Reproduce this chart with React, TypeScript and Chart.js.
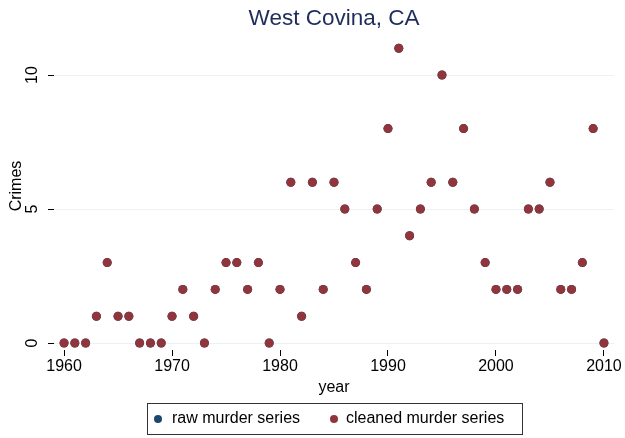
import React, { useEffect, useRef } from "react";
import { Chart, registerables } from "chart.js";

Chart.register(...registerables);

const years: number[] = [
  1960, 1961, 1962, 1963, 1964, 1965, 1966, 1967, 1968, 1969,
  1970, 1971, 1972, 1973, 1974, 1975, 1976, 1977, 1978, 1979,
  1980, 1981, 1982, 1983, 1984, 1985, 1986, 1987, 1988, 1989,
  1990, 1991, 1992, 1993, 1994, 1995, 1996, 1997, 1998, 1999,
  2000, 2001, 2002, 2003, 2004, 2005, 2006, 2007, 2008, 2009, 2010,
];
const cleanedMurders: number[] = [
  0, 0, 0, 1, 3, 1, 1, 0, 0, 0,
  1, 2, 1, 0, 2, 3, 3, 2, 3, 0,
  2, 6, 1, 6, 2, 6, 5, 3, 2, 5,
  8, 11, 4, 5, 6, 10, 6, 8, 5, 3,
  2, 2, 2, 5, 5, 6, 2, 2, 3, 8, 0,
];
const rawMurders: number[] = [...cleanedMurders];
const xTicks: number[] = [1960, 1970, 1980, 1990, 2000, 2010];
const yTicks: number[] = [0, 5, 10];
const titleText = "West Covina, CA";
const xTitle = "year";
const yTitle = "Crimes";
const legendLabels: string[] = ["raw murder series", "cleaned murder series"];

const FONT = "'Liberation Sans', Arial, Helvetica, sans-serif";
const RED = "rgb(144,53,59)";
const BLUE = "rgb(26,71,111)";

const decorPlugin = {
  id: "decor",
  afterDraw(chart: any) {
    const ctx = chart.ctx as CanvasRenderingContext2D;
    const area = chart.chartArea;
    const cx = (area.left + area.right) / 2;
    const yScale = chart.scales.y;
    ctx.save();
    // Title
    ctx.fillStyle = "rgb(30,45,90)";
    ctx.font = `22.5px ${FONT}`;
    ctx.textAlign = "center";
    ctx.textBaseline = "middle";
    ctx.fillText(titleText, cx, 19);
    // Y tick labels (rotated)
    ctx.fillStyle = "#000";
    ctx.font = `16px ${FONT}`;
    yTicks.forEach((v) => {
      const py = yScale.getPixelForValue(v);
      ctx.save();
      ctx.translate(33, py);
      ctx.rotate(-Math.PI / 2);
      ctx.textAlign = "center";
      ctx.textBaseline = "middle";
      ctx.fillText(String(v), 0, 0);
      ctx.restore();
    });
    // Y title
    ctx.save();
    ctx.translate(17, 186);
    ctx.rotate(-Math.PI / 2);
    ctx.textAlign = "center";
    ctx.textBaseline = "middle";
    ctx.fillText(yTitle, 0, 0);
    ctx.restore();
    // X title
    ctx.textAlign = "center";
    ctx.textBaseline = "middle";
    ctx.fillText(xTitle, cx, 388);
    // Legend box
    const bx = 147, by = 403, bw = 375, bh = 31;
    ctx.strokeStyle = "#333";
    ctx.lineWidth = 1;
    ctx.strokeRect(bx + 0.5, by + 0.5, bw, bh);
    const items = [
      { label: legendLabels[0], color: BLUE, dotX: 158, textX: 172 },
      { label: legendLabels[1], color: RED, dotX: 334, textX: 346 },
    ];
    const ly = by + bh / 2 + 0.5;
    items.forEach((it) => {
      ctx.fillStyle = it.color;
      ctx.beginPath();
      ctx.arc(it.dotX, ly, 4, 0, Math.PI * 2);
      ctx.fill();
      ctx.fillStyle = "#000";
      ctx.textAlign = "left";
      ctx.textBaseline = "middle";
      ctx.fillText(it.label, it.textX, ly);
    });
    ctx.restore();
  },
};

export default function App() {
  const ref = useRef<HTMLCanvasElement | null>(null);
  useEffect(() => {
    if (!ref.current) return;
    const chart = new Chart(ref.current, {
      type: "scatter",
      data: {
        datasets: [
          {
            label: legendLabels[0],
            data: years.map((x, i) => ({ x, y: rawMurders[i] })),
            backgroundColor: BLUE,
            borderColor: BLUE,
            pointRadius: 4.5,
            borderWidth: 0,
            order: 2,
            clip: false as any,
          },
          {
            label: legendLabels[1],
            data: years.map((x, i) => ({ x, y: cleanedMurders[i] })),
            backgroundColor: RED,
            borderColor: RED,
            pointRadius: 4.5,
            borderWidth: 0,
            order: 1,
            clip: false as any,
          },
        ],
      },
      options: {
        responsive: false,
        animation: false,
        layout: { padding: { top: 40, left: 0, right: 11, bottom: 0 } },
        plugins: {
          legend: { display: false },
          title: { display: false },
          tooltip: { enabled: false },
        },
        scales: {
          x: {
            type: "linear",
            min: 1959.07,
            max: 2010.93,
            afterBuildTicks: (s: any) => {
              s.ticks = xTicks.map((v) => ({ value: v }));
            },
            afterFit: (s: any) => {
              s.height = 88;
            },
            grid: {
              drawOnChartArea: false,
              drawTicks: true,
              tickLength: 6,
              tickColor: "#000",
              color: "#000",
            },
            border: { display: false },
            ticks: {
              color: "#000",
              font: { size: 16, family: FONT },
              padding: 1,
              maxRotation: 0,
              minRotation: 0,
              callback: (v: any) => String(v),
            },
          },
          y: {
            type: "linear",
            min: -0.261,
            max: 11.306,
            afterBuildTicks: (s: any) => {
              s.ticks = yTicks.map((v) => ({ value: v }));
            },
            afterFit: (s: any) => {
              s.width = 54;
            },
            grid: {
              drawOnChartArea: true,
              drawTicks: true,
              tickLength: 6,
              tickColor: "#000",
              color: "rgb(234,242,243)",
            },
            border: { display: false },
            ticks: { display: false },
          },
        },
      },
      plugins: [decorPlugin],
    } as any);
    return () => chart.destroy();
  }, []);
  return (
    <div style={{ position: "fixed", left: 0, top: 0, width: 625, height: 438, background: "#fff" }}>
      <canvas ref={ref} width={625} height={438} style={{ display: "block" }} />
    </div>
  );
}
